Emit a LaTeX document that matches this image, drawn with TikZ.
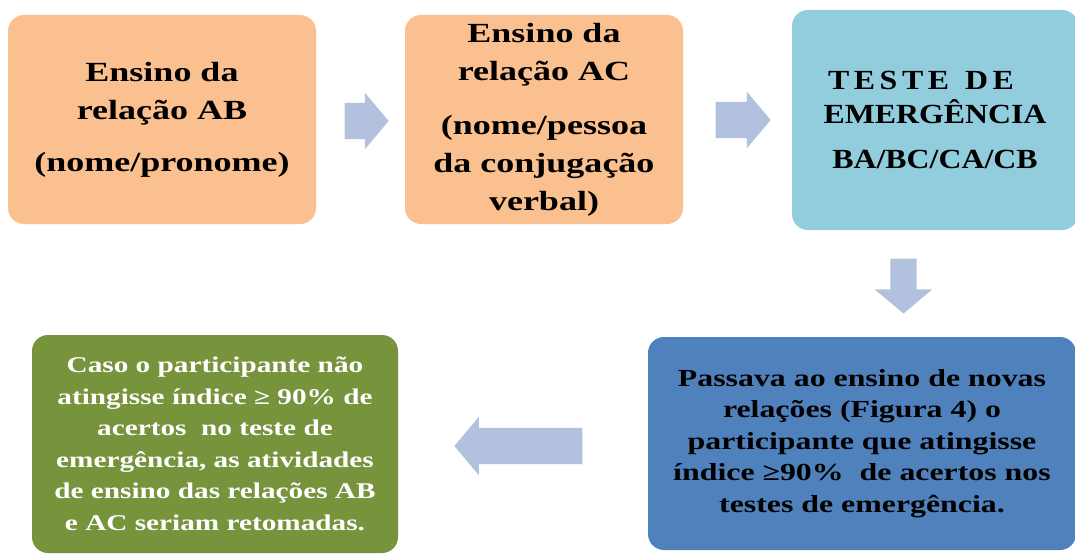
\documentclass[tikz,border=0pt]{standalone}
\usepackage{fontspec}
\setmainfont{Liberation Serif}
\newfontfamily\wideserif[FakeStretch=1.3]{Liberation Serif}
\newfontfamily\capserif[FakeStretch=1.15]{Liberation Serif}
\usetikzlibrary{shapes.arrows}
\definecolor{peach}{RGB}{250,192,143}
\definecolor{skyblue}{RGB}{146,205,221}
\definecolor{steelblue}{RGB}{79,129,189}
\definecolor{olivegreen}{RGB}{119,147,60}
\definecolor{arrowblue}{RGB}{178,193,222}
\begin{document}
\begin{tikzpicture}[x=1pt,y=-1pt,
  box/.style={rounded corners=16pt,inner sep=0pt,align=center,
    font=\wideserif\bfseries\fontsize{27.7}{38}\selectfont},
  smallbox/.style={box,font=\wideserif\bfseries\fontsize{#1}{31.5}\selectfont},
  blockarrow/.style={single arrow,fill=arrowblue,inner xsep=0pt,inner ysep=18pt,
    single arrow head extend=10pt,single arrow tip angle=100}]
\useasboundingbox (0,0) rectangle (1075,556);
% top row
\node[box,fill=peach,minimum width=308pt,minimum height=209pt] (ab) at (162,119.5)
  {Ensino da\\ relação AB\\[14pt] (nome/pronome)};
\node[box,fill=peach,minimum width=278pt,minimum height=209pt] (ac) at (544,119.5)
  {Ensino da\\ relação AC\\[16pt] (nome/pessoa\\ da conjugação\\ verbal)};
\node[box,fill=skyblue,minimum width=286pt,minimum height=220pt,
  font=\capserif\bfseries\fontsize{27.7}{34}\selectfont] (teste) at (935,120)
  {T\,E\,S\,T\,E \ D\,E\hspace*{28pt}\\ EMERGÊNCIA\\[11pt] BA/BC/CA/CB};
% bottom row
\node[smallbox=24.5,fill=steelblue,minimum width=428pt,minimum height=213pt] (novas) at (862,443.5)
  {Passava ao ensino de novas\\ relações (Figura 4) o\\ participante que atingisse\\
   índice ≥90\%\ \ de acertos nos\\ testes de emergência.};
\node[smallbox=22.5,fill=olivegreen,text=white,minimum width=366pt,minimum height=218pt] (retoma) at (215,444)
  {Caso o participante não\\ atingisse índice ≥ 90\% de\\ acertos\ \ no teste de\\
   emergência, as atividades\\ de ensino das relações AB\\ e AC seriam retomadas.};
% arrows
\node[blockarrow,minimum height=44pt] (ar1) at (359,121) {};
\node[blockarrow,minimum height=55pt] (ar2) at (735.5,120) {};
\node[blockarrow,minimum height=55pt,inner ysep=13pt,single arrow head extend=15.5pt,
  rotate=-90] (ar3) at (903.5,280.5) {};
\node[blockarrow,minimum height=128pt,inner ysep=18pt,single arrow head extend=11pt,
  rotate=180] (ar4) at (526,446) {};
\end{tikzpicture}
\end{document}
